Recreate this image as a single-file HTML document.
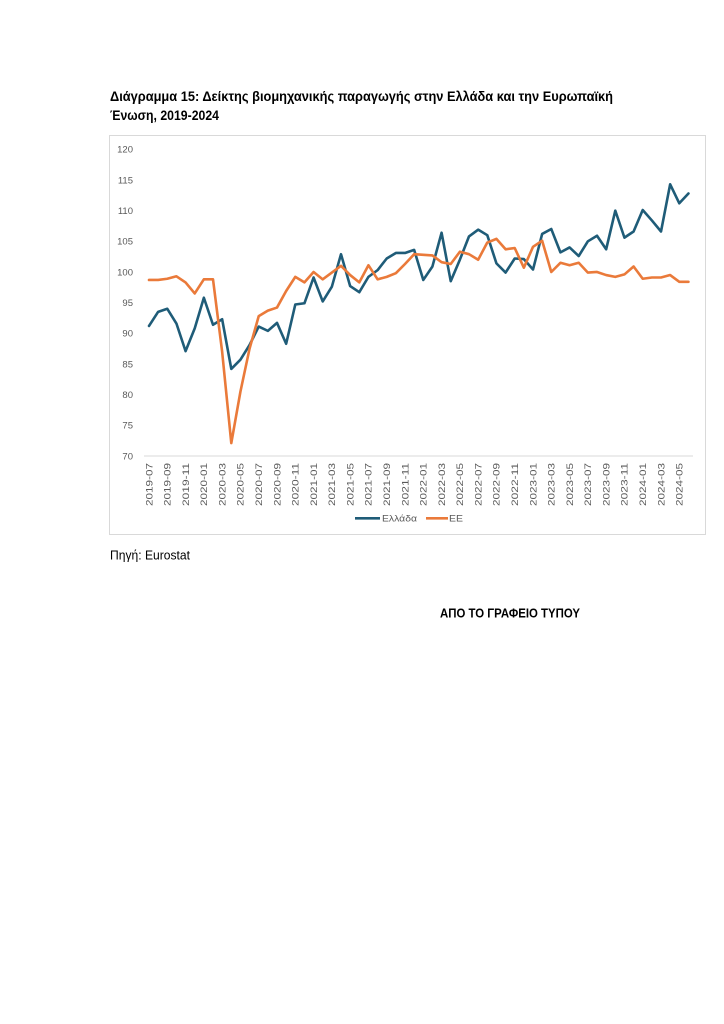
<!DOCTYPE html>
<html>
<head>
<meta charset="utf-8">
<style>
  html, body { margin: 0; padding: 0; background: #ffffff; }
  body { width: 724px; height: 1024px; overflow: hidden; }
  svg { display: block; }
  text { font-family: "Liberation Sans", "DejaVu Sans", sans-serif; }
</style>
</head>
<body>
<svg width="724" height="1024" viewBox="0 0 724 1024" xmlns="http://www.w3.org/2000/svg">
  <rect x="0" y="0" width="724" height="1024" fill="#ffffff"/>

  <!-- Title -->
  <text x="110" y="101" font-size="13.5" font-weight="bold" fill="#000" textLength="503" lengthAdjust="spacingAndGlyphs">Διάγραμμα 15: Δείκτης βιομηχανικής παραγωγής στην Ελλάδα και την Ευρωπαϊκή</text>
  <text x="110" y="120" font-size="13.5" font-weight="bold" fill="#000" textLength="109" lengthAdjust="spacingAndGlyphs">Ένωση, 2019-2024</text>

  <!-- Chart frame -->
  <rect x="109.5" y="135.5" width="596" height="399" fill="#ffffff" stroke="#d9d9d9" stroke-width="1"/>

  <!-- Y tick labels -->
  <g font-size="9.5" fill="#595959" text-anchor="end">
    <text x="133" y="152.6">120</text>
    <text x="133" y="183.3">115</text>
    <text x="133" y="213.9">110</text>
    <text x="133" y="244.6">105</text>
    <text x="133" y="275.3">100</text>
    <text x="133" y="306">95</text>
    <text x="133" y="336.6">90</text>
    <text x="133" y="367.3">85</text>
    <text x="133" y="398">80</text>
    <text x="133" y="428.6">75</text>
    <text x="133" y="459.3">70</text>
  </g>

  <!-- X axis line -->
  <line x1="144" y1="456" x2="693" y2="456" stroke="#d9d9d9" stroke-width="1"/>

  <!-- X tick labels -->
  <g font-size="9" fill="#595959" text-anchor="end">
    <text transform="translate(152.3,463) rotate(-90)" textLength="43" lengthAdjust="spacingAndGlyphs">2019-07</text>
    <text transform="translate(170.6,463) rotate(-90)" textLength="43" lengthAdjust="spacingAndGlyphs">2019-09</text>
    <text transform="translate(188.9,463) rotate(-90)" textLength="43" lengthAdjust="spacingAndGlyphs">2019-11</text>
    <text transform="translate(207.2,463) rotate(-90)" textLength="43" lengthAdjust="spacingAndGlyphs">2020-01</text>
    <text transform="translate(225.4,463) rotate(-90)" textLength="43" lengthAdjust="spacingAndGlyphs">2020-03</text>
    <text transform="translate(243.7,463) rotate(-90)" textLength="43" lengthAdjust="spacingAndGlyphs">2020-05</text>
    <text transform="translate(262.0,463) rotate(-90)" textLength="43" lengthAdjust="spacingAndGlyphs">2020-07</text>
    <text transform="translate(280.3,463) rotate(-90)" textLength="43" lengthAdjust="spacingAndGlyphs">2020-09</text>
    <text transform="translate(298.6,463) rotate(-90)" textLength="43" lengthAdjust="spacingAndGlyphs">2020-11</text>
    <text transform="translate(316.9,463) rotate(-90)" textLength="43" lengthAdjust="spacingAndGlyphs">2021-01</text>
    <text transform="translate(335.2,463) rotate(-90)" textLength="43" lengthAdjust="spacingAndGlyphs">2021-03</text>
    <text transform="translate(353.5,463) rotate(-90)" textLength="43" lengthAdjust="spacingAndGlyphs">2021-05</text>
    <text transform="translate(371.7,463) rotate(-90)" textLength="43" lengthAdjust="spacingAndGlyphs">2021-07</text>
    <text transform="translate(390.0,463) rotate(-90)" textLength="43" lengthAdjust="spacingAndGlyphs">2021-09</text>
    <text transform="translate(408.3,463) rotate(-90)" textLength="43" lengthAdjust="spacingAndGlyphs">2021-11</text>
    <text transform="translate(426.6,463) rotate(-90)" textLength="43" lengthAdjust="spacingAndGlyphs">2022-01</text>
    <text transform="translate(444.9,463) rotate(-90)" textLength="43" lengthAdjust="spacingAndGlyphs">2022-03</text>
    <text transform="translate(463.2,463) rotate(-90)" textLength="43" lengthAdjust="spacingAndGlyphs">2022-05</text>
    <text transform="translate(481.5,463) rotate(-90)" textLength="43" lengthAdjust="spacingAndGlyphs">2022-07</text>
    <text transform="translate(499.7,463) rotate(-90)" textLength="43" lengthAdjust="spacingAndGlyphs">2022-09</text>
    <text transform="translate(518.0,463) rotate(-90)" textLength="43" lengthAdjust="spacingAndGlyphs">2022-11</text>
    <text transform="translate(536.3,463) rotate(-90)" textLength="43" lengthAdjust="spacingAndGlyphs">2023-01</text>
    <text transform="translate(554.6,463) rotate(-90)" textLength="43" lengthAdjust="spacingAndGlyphs">2023-03</text>
    <text transform="translate(572.9,463) rotate(-90)" textLength="43" lengthAdjust="spacingAndGlyphs">2023-05</text>
    <text transform="translate(591.2,463) rotate(-90)" textLength="43" lengthAdjust="spacingAndGlyphs">2023-07</text>
    <text transform="translate(609.5,463) rotate(-90)" textLength="43" lengthAdjust="spacingAndGlyphs">2023-09</text>
    <text transform="translate(627.7,463) rotate(-90)" textLength="43" lengthAdjust="spacingAndGlyphs">2023-11</text>
    <text transform="translate(646.0,463) rotate(-90)" textLength="43" lengthAdjust="spacingAndGlyphs">2024-01</text>
    <text transform="translate(664.3,463) rotate(-90)" textLength="43" lengthAdjust="spacingAndGlyphs">2024-03</text>
    <text transform="translate(682.6,463) rotate(-90)" textLength="43" lengthAdjust="spacingAndGlyphs">2024-05</text>
  </g>

  <!-- Greece series -->
  <polyline fill="none" stroke="#1f5c78" stroke-width="2.6" stroke-linejoin="round" stroke-linecap="round"
    points="149.0,325.96 158.14,311.85 167.29,308.78 176.43,323.51 185.57,351.11 194.72,328.41 203.86,297.74 213.0,324.73 222.14,319.21 231.29,368.9 240.43,359.7 249.57,344.97 258.72,326.57 267.86,330.87 277.0,322.89 286.15,343.75 295.29,304.49 304.43,303.26 313.57,277.5 322.72,301.42 331.86,286.7 341.0,254.19 350.15,286.09 359.29,292.22 368.43,276.89 377.58,270.14 386.72,258.49 395.86,252.96 405.0,252.96 414.15,249.9 423.29,279.95 432.43,266.46 441.58,232.72 450.72,281.18 459.86,259.71 469.01,236.4 478.15,229.66 487.29,235.18 496.43,263.39 505.58,272.59 514.72,258.49 523.86,259.1 533.01,269.53 542.15,233.95 551.29,229.04 560.44,252.35 569.58,247.44 578.72,256.03 587.86,241.31 597.01,235.79 606.15,249.28 615.29,210.64 624.44,237.63 633.58,231.5 642.72,210.03 651.87,220.45 661.01,231.5 670.15,184.26 679.29,203.28 688.44,193.46"/>

  <!-- EU series -->
  <polyline fill="none" stroke="#ea7a3a" stroke-width="2.6" stroke-linejoin="round" stroke-linecap="round"
    points="149.0,279.95 158.14,279.95 167.29,278.73 176.43,276.27 185.57,282.41 194.72,293.45 203.86,279.34 213.0,279.34 222.14,351.72 231.29,443.12 240.43,391.59 249.57,348.65 258.72,316.14 267.86,310.62 277.0,307.56 286.15,291.0 295.29,276.89 304.43,282.41 313.57,271.98 322.72,279.34 331.86,272.59 341.0,265.85 350.15,275.05 359.29,282.41 368.43,265.23 377.58,279.34 386.72,276.89 395.86,273.21 405.0,264.01 414.15,254.19 423.29,254.8 432.43,255.42 441.58,262.17 450.72,264.01 459.86,251.74 469.01,254.19 478.15,259.71 487.29,242.54 496.43,238.86 505.58,249.28 514.72,248.06 523.86,267.69 533.01,246.83 542.15,240.7 551.29,271.98 560.44,262.78 569.58,265.23 578.72,262.78 587.86,272.59 597.01,271.98 606.15,275.05 615.29,276.89 624.44,274.43 633.58,266.46 642.72,278.73 651.87,277.5 661.01,277.5 670.15,275.05 679.29,281.79 688.44,281.79"/>

  <!-- Legend -->
  <line x1="355" y1="518.3" x2="380" y2="518.3" stroke="#1f5c78" stroke-width="2.6"/>
  <text x="382" y="521.6" font-size="9.5" fill="#595959" textLength="35" lengthAdjust="spacingAndGlyphs">Ελλάδα</text>
  <line x1="426" y1="518.3" x2="448" y2="518.3" stroke="#ea7a3a" stroke-width="2.6"/>
  <text x="449" y="521.6" font-size="9.5" fill="#595959" textLength="14" lengthAdjust="spacingAndGlyphs">EE</text>

  <!-- Source -->
  <text x="110" y="559.5" font-size="12.5" fill="#000" textLength="80" lengthAdjust="spacingAndGlyphs">Πηγή: Eurostat</text>

  <!-- Press office -->
  <text x="440" y="617.5" font-size="13" font-weight="bold" fill="#000" textLength="140" lengthAdjust="spacingAndGlyphs">ΑΠΟ ΤΟ ΓΡΑΦΕΙΟ ΤΥΠΟΥ</text>
</svg>
</body>
</html>
